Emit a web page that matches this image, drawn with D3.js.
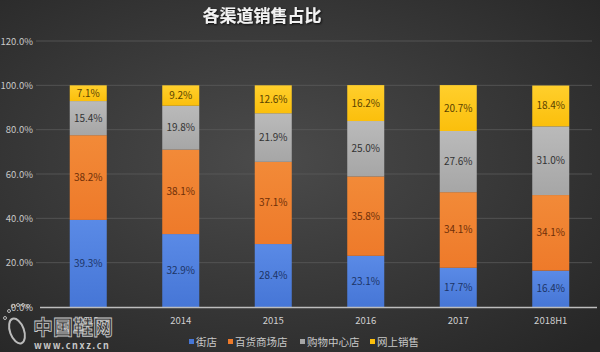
<!DOCTYPE html>
<html>
<head>
  <meta charset='utf-8'>
  <script src="https://cdn.jsdelivr.net/npm/d3@7/dist/d3.min.js"></script>
  <style>
    body { margin: 0; background: #333; }
    svg text { font-family: "Noto Sans CJK SC", "Liberation Sans", sans-serif; }
  </style>
</head>
<body>
<script>
  // data
  const years = ['2013', '2014', '2015', '2016', '2017', '2018H1']
  const channels = ['街店', '百货商场店', '购物中心店', '网上销售']
  const street = [39.3, 32.9, 28.4, 23.1, 17.7, 16.4]
  const dept = [38.2, 38.1, 37.1, 35.8, 34.1, 34.1]
  const mall = [15.4, 19.8, 21.9, 25.0, 27.6, 31.0]
  const online = [7.1, 9.2, 12.6, 16.2, 20.7, 18.4]
  const yTicks = [0, 20, 40, 60, 80, 100, 120]

  const w = 600, h = 352
  const colors = ['#4676d6', '#ee7a2a', '#a6a6a6', '#fbbf0c']
  const colorsTop = ['#5a8ae6', '#f28a38', '#bababa', '#ffcf2c']
  const textColors = ['#1c3466', '#6e2f08', '#333333', '#5a4300']

  const rows = years.map((y, i) => ({
    year: y, '街店': street[i], '百货商场店': dept[i], '购物中心店': mall[i], '网上销售': online[i]
  }))
  const series = d3.stack().keys(channels)(rows)

  const svg = d3.select('body').append('svg')
    .attr('width', w).attr('height', h)

  const defs = svg.append('defs')
  const bg = defs.append('radialGradient').attr('id', 'bg')
    .attr('cx', '45%').attr('cy', '45%').attr('r', '75%')
  bg.append('stop').attr('offset', '0%').attr('stop-color', '#4b4b4b')
  bg.append('stop').attr('offset', '100%').attr('stop-color', '#262626')
  channels.forEach((c, i) => {
    const g = defs.append('linearGradient').attr('id', 'g' + i)
      .attr('x1', 0).attr('y1', 0).attr('x2', 0).attr('y2', 1)
    g.append('stop').attr('offset', '0%').attr('stop-color', colorsTop[i])
    g.append('stop').attr('offset', '100%').attr('stop-color', colors[i])
  })
  const sh = defs.append('filter').attr('id', 'shadow')
  sh.append('feDropShadow').attr('dx', 1).attr('dy', 1).attr('stdDeviation', 1)
    .attr('flood-color', '#000').attr('flood-opacity', 0.8)

  svg.append('rect').attr('width', w).attr('height', h).attr('fill', 'url(#bg)')

  const xScale = d3.scaleBand().domain(years).range([42, 597]).paddingInner(0.6).paddingOuter(0.3)
  const yScale = d3.scaleLinear().domain([0, 120]).range([307, 41])

  // grid
  svg.append('g').selectAll('line').data(yTicks.filter(d => d > 0)).join('line')
    .attr('x1', 36).attr('x2', 592)
    .attr('y1', d => yScale(d)).attr('y2', d => yScale(d))
    .attr('stroke', '#5a5a5a').attr('stroke-width', 0.8)

  // y labels
  svg.append('g').selectAll('text').data(yTicks).join('text')
    .attr('x', 33).attr('y', d => yScale(d) + 3.5)
    .attr('text-anchor', 'end')
    .attr('fill', '#c8c8c8').attr('font-size', 9.5)
    .text(d => d.toFixed(1) + '%')

  // bars
  const layer = svg.append('g').selectAll('g').data(series).join('g')
    .attr('fill', (d, i) => 'url(#g' + i + ')')
  layer.selectAll('rect').data(d => d).join('rect')
    .attr('x', d => xScale(d.data.year))
    .attr('width', xScale.bandwidth())
    .attr('y', d => yScale(d[1]))
    .attr('height', d => yScale(d[0]) - yScale(d[1]))

  // value labels
  series.forEach((s, i) => {
    svg.append('g').selectAll('text').data(s).join('text')
      .attr('x', d => xScale(d.data.year) + xScale.bandwidth() / 2)
      .attr('y', d => yScale((d[0] + d[1]) / 2) + 3.5)
      .attr('text-anchor', 'middle')
      .attr('fill', textColors[i]).attr('font-size', 10)
      .text(d => (d[1] - d[0]).toFixed(1) + '%')
  })

  // x axis
  svg.append('line').attr('x1', 40).attr('x2', 597)
    .attr('y1', yScale(0) + 0.5).attr('y2', yScale(0) + 0.5)
    .attr('stroke', '#bdbdbd').attr('stroke-width', 1.5)
  svg.append('g').selectAll('text').data(years).join('text')
    .attr('x', d => xScale(d) + xScale.bandwidth() / 2)
    .attr('y', 324)
    .attr('text-anchor', 'middle')
    .attr('fill', '#d0d0d0').attr('font-size', 9.5)
    .text(d => d)

  // title
  svg.append('text').attr('x', 262).attr('y', 22)
    .attr('text-anchor', 'middle')
    .attr('fill', '#f2f2f2').attr('font-size', 17).attr('font-weight', 'bold')
    .attr('filter', 'url(#shadow)')
    .text('各渠道销售占比')

  // legend
  const legendX = [189, 228, 300, 370]
  const lg = svg.append('g').selectAll('g').data(channels).join('g')
    .attr('transform', (d, i) => 'translate(' + legendX[i] + ',342)')
  lg.append('rect').attr('x', 0).attr('y', -3).attr('width', 5).attr('height', 5)
    .attr('fill', (d, i) => colors[i])
  lg.append('text').attr('x', 7).attr('y', 3.5)
    .attr('fill', '#c8c8c8').attr('font-size', 10.5)
    .text(d => d)

  // watermark
  const wm = svg.append('g')
  wm.append('ellipse').attr('cx', 17).attr('cy', 331).attr('rx', 7).attr('ry', 13)
    .attr('transform', 'rotate(-20,17,331)')
    .attr('fill', 'none').attr('stroke', '#bbb').attr('stroke-width', 2)
  ;[[13, 306, 1.8], [18, 305, 1.5], [23, 305, 1.5], [28, 306, 1.5], [9, 311, 1.5], [5, 318, 1.5]].forEach(p => {
    wm.append('circle').attr('cx', p[0]).attr('cy', p[1]).attr('r', p[2])
      .attr('fill', 'none').attr('stroke', '#bbb').attr('stroke-width', 1)
  })
  wm.append('text').attr('x', 33).attr('y', 335)
    .attr('fill', '#3a3a3a').attr('stroke', '#c8c8c8').attr('stroke-width', 0.8)
    .attr('font-size', 20).attr('font-weight', 'bold')
    .text('中国鞋网')
  wm.append('text').attr('x', 34).attr('y', 349)
    .attr('fill', '#c8c8c8').attr('font-size', 9).attr('font-weight', 'bold')
    .attr('letter-spacing', 1.6)
    .attr('font-family', 'DejaVu Sans Mono, monospace')
    .text('www.cnxz.cn')
</script>
</body>
</html>
